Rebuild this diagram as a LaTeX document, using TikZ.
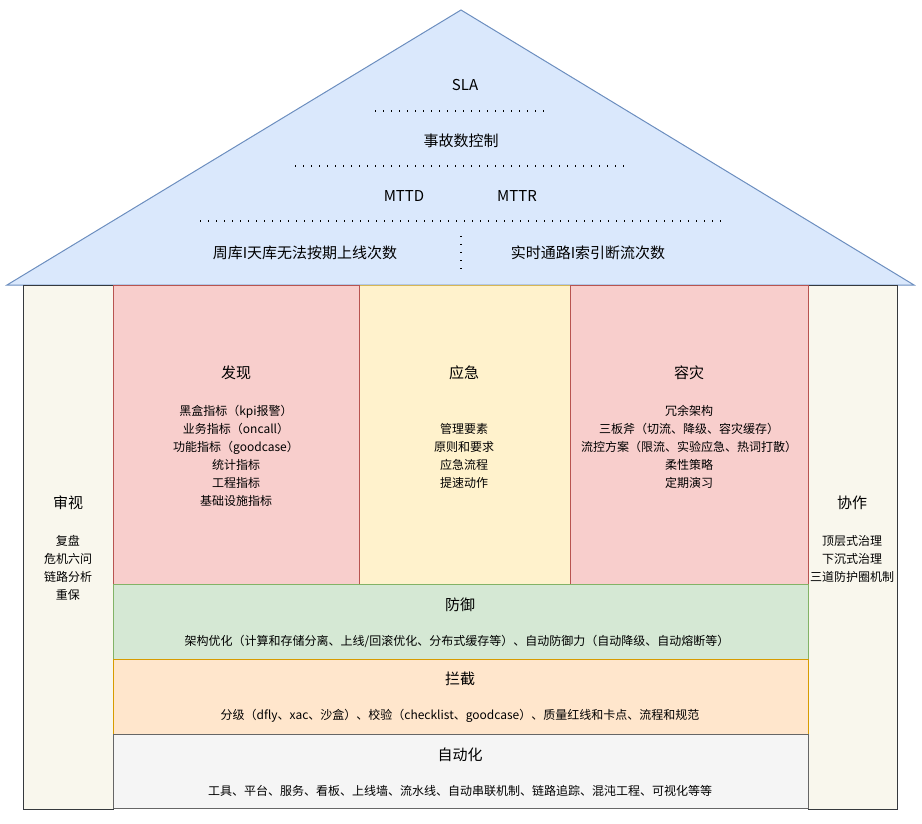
\documentclass[tikz,border=0pt]{standalone}
\usepackage{fontspec}
\setmainfont{Noto Sans CJK SC}
\definecolor{roofF}{HTML}{DAE8FC}\definecolor{roofD}{HTML}{6C8EBF}
\definecolor{redF}{HTML}{F8CECC}\definecolor{redD}{HTML}{B85450}
\definecolor{yelF}{HTML}{FFF2CC}\definecolor{yelD}{HTML}{D6B656}
\definecolor{grnF}{HTML}{D5E8D4}\definecolor{grnD}{HTML}{82B366}
\definecolor{orgF}{HTML}{FFE6CC}\definecolor{orgD}{HTML}{D79B00}
\definecolor{gryF}{HTML}{F5F5F5}\definecolor{gryD}{HTML}{666666}
\definecolor{pilF}{HTML}{F9F7ED}\definecolor{pilD}{HTML}{36393D}
\begin{document}
\begin{tikzpicture}[x=1pt,y=-1pt,
  blk/.style={anchor=north west,inner sep=0pt,outer sep=0pt,line width=1pt},
  rooftxt/.style={font=\fontsize{15}{18}\selectfont,inner sep=0pt},
  ttl/.style={font=\fontsize{15}{18}\selectfont,inner sep=0pt},
  items/.style={font=\fontsize{12}{18}\selectfont,align=center,inner sep=0pt,anchor=north},
  dots/.style={line width=1.6pt,dash pattern=on 1.4pt off 6.6pt}]
\useasboundingbox (0,0) rectangle (922,824);
% roof
\coordinate (apex) at (461,10);
\coordinate (rl) at (7,285);
\coordinate (rr) at (914,285);
\draw[fill=roofF,draw=roofD,line width=1pt] (apex) -- (rr) -- (rl) -- cycle;
% pillars
\node[blk,fill=pilF,draw=pilD,minimum width=90pt,minimum height=524pt] (lp) at (23,285) {};
\node[blk,fill=pilF,draw=pilD,minimum width=89pt,minimum height=524pt] (rp) at (808,285) {};
% columns
\node[blk,fill=redF,draw=redD,minimum width=246pt,minimum height=299pt] (fx) at (113,285) {};
\node[blk,fill=redF,draw=redD,minimum width=238pt,minimum height=299pt] (rz) at (570,285) {};
\node[blk,fill=yelF,draw=yelD,minimum width=211pt,minimum height=299pt] (yj) at (359,285) {};
\draw[redD,line width=1pt] (yj.north west) -- (yj.south west);
\draw[redD,line width=1pt] (yj.north east) -- (yj.south east);
% bands
\node[blk,fill=grnF,draw=grnD,minimum width=695pt,minimum height=75pt] (fy) at (113,584) {};
\node[blk,fill=orgF,draw=orgD,minimum width=695pt,minimum height=75pt] (lj) at (113,659) {};
\node[blk,fill=gryF,draw=gryD,minimum width=695pt,minimum height=74pt] (zd) at (113,734) {};
% roof texts
\node[rooftxt] (sla) at (465,85) {SLA};
\node[rooftxt] (sg) at (461,141) {事故数控制};
\node[rooftxt] (mttd) at (404,196) {MTTD};
\node[rooftxt] (mttr) at (517,196) {MTTR};
\node[rooftxt] (zk) at (305,253) {周库I天库无法按期上线次数};
\node[rooftxt] (ss) at (588,253) {实时通路I索引断流次数};
\coordinate (d1a) at (375,111); \coordinate (d1b) at (548,111);
\coordinate (d2a) at (295,166); \coordinate (d2b) at (628,166);
\coordinate (d3a) at (200,221); \coordinate (d3b) at (723,221);
\coordinate (dva) at (461,236); \coordinate (dvb) at (461,272);
\draw[dots] (d1a) -- (d1b);
\draw[dots] (d2a) -- (d2b);
\draw[dots] (d3a) -- (d3b);
\draw[dots] (dva) -- (dvb);
% column texts
\node[ttl] (fxt) at (236,373) {发现};
\node[items] (fxi) at (236,405) {黑盒指标（kpi报警）\\业务指标（oncall）\\功能指标（goodcase）\\统计指标\\工程指标\\基础设施指标};
\node[ttl] (yjt) at (464,373) {应急};
\node[items] (yji) at (464,423) {管理要素\\原则和要求\\应急流程\\提速动作};
\node[ttl] (rzt) at (689,373) {容灾};
\node[items] (rzi) at (689,405) {冗余架构\\三板斧（切流、降级、容灾缓存）\\流控方案（限流、实验应急、热词打散）\\柔性策略\\定期演习};
% pillars text
\node[ttl] (sst) at (68,503) {审视};
\node[items] (ssi) at (68,535) {复盘\\危机六问\\链路分析\\重保};
\node[ttl] (xzt) at (852,503) {协作};
\node[items] (xzi) at (852,535) {顶层式治理\\下沉式治理\\三道防护圈机制};
% band texts
\node[ttl] (fyt) at (460,605) {防御};
\node[items,anchor=center] (fyi) at (457,641) {架构优化（计算和存储分离、上线/回滚优化、分布式缓存等）、自动防御力（自动降级、自动熔断等）};
\node[ttl] (ljt) at (460,679) {拦截};
\node[items,anchor=center] (lji) at (460,716) {分级（dfly、xac、沙盒）、校验（checklist、goodcase）、质量红线和卡点、流程和规范};
\node[ttl] (zdt) at (460,755) {自动化};
\node[items,anchor=center] (zdi) at (460,791) {工具、平台、服务、看板、上线墙、流水线、自动串联机制、链路追踪、混沌工程、可视化等等};
\end{tikzpicture}
\end{document}
